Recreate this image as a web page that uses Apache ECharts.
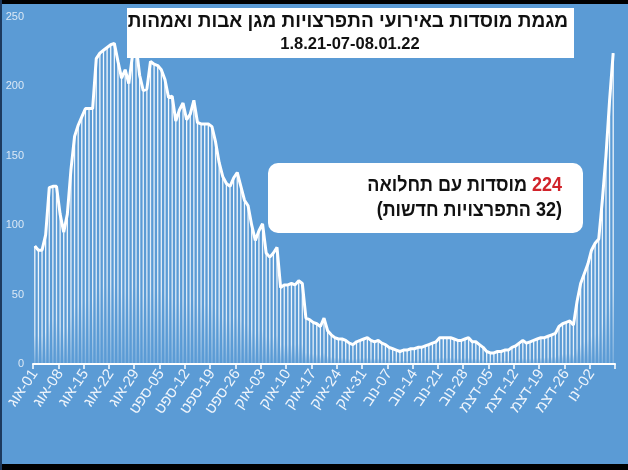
<!DOCTYPE html>
<html>
<head>
<meta charset="utf-8">
<script src="https://cdn.jsdelivr.net/npm/echarts@6/dist/echarts.min.js"></script>
<style>
html,body{margin:0;padding:0;background:#000;}
#c{width:628px;height:470px;}
</style>
</head>
<body>
<div id="c"></div>
<script>
// ---- data ----
var startDate = [2021, 7, 1]; // 1 Aug 2021
var monthNames = ['ינו','פבר','מרץ','אפר','מאי','יונ','יול','אוג','ספט','אוק','נוב','דצמ'];
var values = [
 85,82,82,93,127,128,128,108,95,108,
 140,164,172,178,184,184,184,220,224,226,
 228,230,231,218,206,212,202,222,230,208,
 197,198,218,216,215,212,205,192,193,175,
 183,188,176,180,190,174,173,173,173,171,
 160,145,135,130,128,134,138,128,118,114,
 100,89,96,101,80,77,80,84,55,57,
 57,58,57,60,58,33,32,30,29,27,
 33,24,21,19,18,18,17,15,14,16,
 17,18,19,17,16,17,15,14,12,11,
 10,9,10,10,11,11,12,12,13,14,
 15,16,19,19,19,19,18,17,17,18,
 19,16,16,14,12,9,8,8,9,9,
 10,10,12,13,15,17,15,16,17,18,
 19,19,20,21,22,27,29,30,31,28,
 45,58,65,72,82,87,90,118,150,190,
 224
];
var yTicks = [0, 50, 100, 150, 200, 250];
var titleLine1 = 'מגמת מוסדות באירועי התפרצויות מגן אבות ואמהות';
var titleLine2 = '1.8.21-07-08.01.22';
var noteCount = '224';
var noteLine1 = 'מוסדות עם תחלואה ';
var noteLine2 = '(\u200F32 התפרצויות חדשות)';

// categories: one per day, label shows month (Hebrew) then day number
var categories = [];
(function(){
  var d = new Date(startDate[0], startDate[1], startDate[2]);
  for (var i = 0; i < values.length; i++) {
    var dd = d.getDate();
    categories.push(monthNames[d.getMonth()] + '\u200E-' + (dd < 10 ? '0' : '') + dd);
    d.setDate(d.getDate() + 1);
  }
})();

var FONT = "'Liberation Sans', Arial, 'DejaVu Sans', sans-serif";
var chart = echarts.init(document.getElementById('c'), null, {renderer: 'canvas'});
chart.setOption({
  backgroundColor: '#5b9bd5',
  animation: false,
  grid: {left: 33, right: 13, top: 17, bottom: 106},
  xAxis: {
    type: 'category',
    data: categories,
    boundaryGap: true,
    axisLine: {show: true, lineStyle: {color: '#ffffff', width: 2}},
    axisTick: {show: true, interval: 6, length: 5, lineStyle: {color: '#ffffff', width: 1.5}},
    axisLabel: {interval: 6, rotate: 56, color: '#eef4fb', fontSize: 15, fontFamily: FONT, margin: 7},
    splitLine: {show: false}
  },
  yAxis: {
    type: 'value',
    min: yTicks[0], max: yTicks[yTicks.length - 1], interval: 50,
    axisLine: {show: false},
    axisTick: {show: false},
    splitLine: {show: false},
    axisLabel: {color: '#dbe8f5', fontSize: 11, fontFamily: "'Liberation Sans Narrow', " + FONT, margin: 9}
  },
  series: [
    {
      type: 'bar',
      data: values,
      barWidth: 1.3,
      itemStyle: {
        color: new echarts.graphic.LinearGradient(0, 0, 0, 1, [
          {offset: 0, color: 'rgba(255,255,255,0.95)'},
          {offset: 0.75, color: 'rgba(255,255,255,0.8)'},
          {offset: 1, color: 'rgba(255,255,255,0.2)'}
        ])
      },
      z: 2
    },
    {
      type: 'line',
      data: values,
      symbol: 'none',
      smooth: false,
      lineStyle: {color: '#ffffff', width: 3},
      z: 3
    }
  ],
  graphic: [
    {type: 'rect', z: 100, shape: {x: 0, y: 0, width: 628, height: 4}, style: {fill: '#000'}},
    {type: 'rect', z: 100, shape: {x: 0, y: 464, width: 628, height: 6}, style: {fill: '#000'}},
    {type: 'rect', z: 100, shape: {x: 0, y: 0, width: 2, height: 470}, style: {fill: '#1d3a5e'}},
    {type: 'rect', z: 100, shape: {x: 127, y: 8, width: 447, height: 50}, style: {fill: '#ffffff'}},
    {type: 'text', z: 101, style: {x: 348, y: 22, text: titleLine1, align: 'center', verticalAlign: 'middle',
      font: 'bold 19px ' + FONT, fill: '#111111'}},
    {type: 'text', z: 101, style: {x: 350, y: 44, text: titleLine2, align: 'center', verticalAlign: 'middle',
      font: 'bold 16.5px ' + FONT, fill: '#111111'}},
    {type: 'rect', z: 100, shape: {x: 268, y: 163, width: 315, height: 70, r: 10}, style: {fill: '#ffffff'}},
    {type: 'text', z: 101, x: 562, y: 198, scaleX: 0.9, originX: 0, originY: 0,
      style: {x: 0, y: 0, align: 'right', verticalAlign: 'middle',
      text: '{b|' + noteLine1 + '}{r|' + noteCount + '}\n{c|' + noteLine2 + '}',
      rich: {
        b: {font: 'bold 20px ' + FONT, fill: '#111111', lineHeight: 25},
        r: {font: 'bold 20px ' + FONT, fill: '#d1232a', lineHeight: 25},
        c: {font: 'bold 20px ' + FONT, fill: '#111111', lineHeight: 25}
      }}}
  ]
});
</script>
</body>
</html>
